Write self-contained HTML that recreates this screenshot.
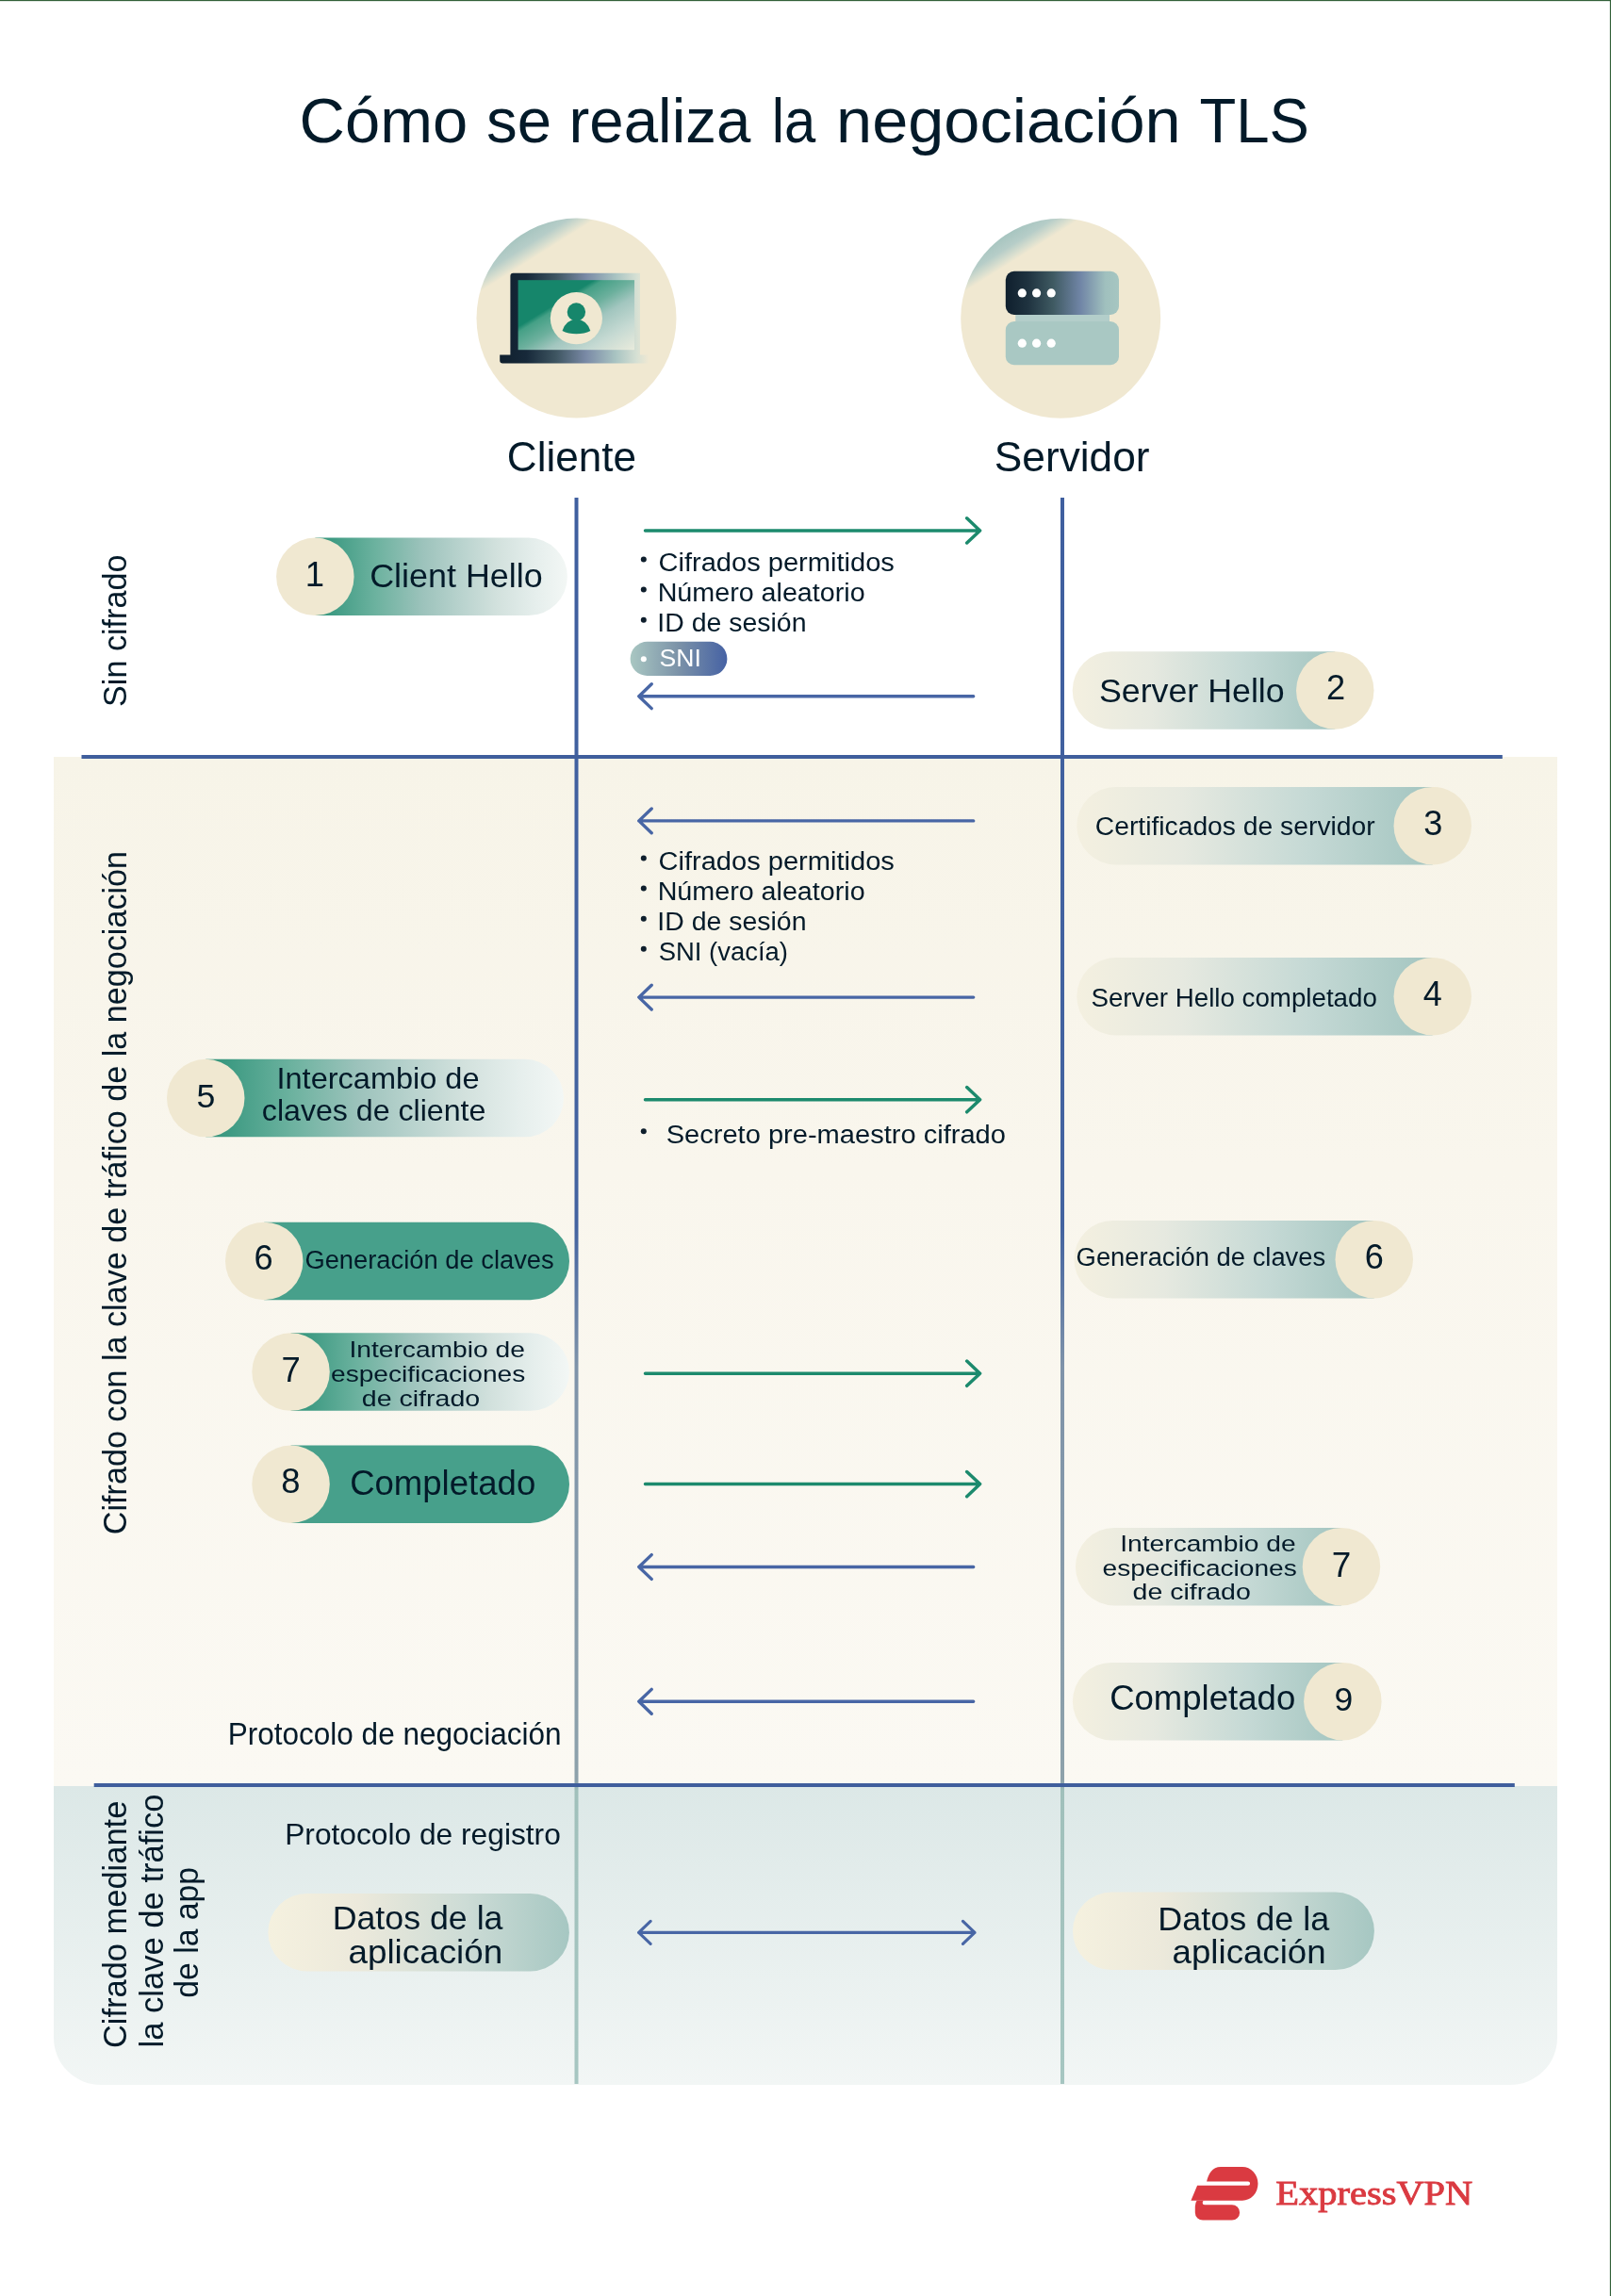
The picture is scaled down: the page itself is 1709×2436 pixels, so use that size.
<!DOCTYPE html>
<html><head><meta charset="utf-8"><title>Cómo se realiza la negociación TLS</title>
<style>html,body{margin:0;padding:0;background:#fff;width:1709px;height:2436px;overflow:hidden}svg{display:block}</style>
</head><body>
<svg style="will-change:transform" width="1709" height="2436" viewBox="0 0 1709 2436">

<defs>
 <linearGradient id="gVert" gradientUnits="userSpaceOnUse" x1="0" y1="528" x2="0" y2="2211">
  <stop offset="0" stop-color="#3f5f9f"/>
  <stop offset="0.459" stop-color="#4363a0"/>
  <stop offset="0.548" stop-color="#7f93a9"/>
  <stop offset="0.809" stop-color="#8ea2ab"/>
  <stop offset="0.815" stop-color="#a0c0bb"/>
  <stop offset="1" stop-color="#a6c6c1"/>
 </linearGradient>
 <linearGradient id="gSec3" x1="0" y1="0" x2="0" y2="1">
  <stop offset="0" stop-color="#dce8e7"/>
  <stop offset="1" stop-color="#f2f6f5"/>
 </linearGradient>
 <linearGradient id="gSec2" x1="0" y1="0" x2="0" y2="1">
  <stop offset="0" stop-color="#f7f4e8"/>
  <stop offset="0.4" stop-color="#f9f6ed"/>
  <stop offset="1" stop-color="#fbf9f3"/>
 </linearGradient>
 <linearGradient id="gGreen" x1="0" y1="0" x2="1" y2="0">
  <stop offset="0" stop-color="#339479"/>
  <stop offset="0.06" stop-color="#3d9a82"/>
  <stop offset="0.24" stop-color="#6cb29f"/>
  <stop offset="0.43" stop-color="#9dc3bc"/>
  <stop offset="0.58" stop-color="#b9d3ce"/>
  <stop offset="0.72" stop-color="#d2e1dd"/>
  <stop offset="0.87" stop-color="#e5eeec"/>
  <stop offset="1" stop-color="#f3f7f5"/>
 </linearGradient>
 <linearGradient id="gTeal" x1="0" y1="0" x2="1" y2="0">
  <stop offset="0" stop-color="#f4f0e0"/>
  <stop offset="0.3" stop-color="#e6e9e0"/>
  <stop offset="0.65" stop-color="#c5d9d5"/>
  <stop offset="1" stop-color="#a3c5c0"/>
 </linearGradient>
 <linearGradient id="gDatos" x1="0" y1="0" x2="1" y2="0">
  <stop offset="0" stop-color="#f5f1df"/>
  <stop offset="0.3" stop-color="#ece9db"/>
  <stop offset="0.65" stop-color="#cddcd6"/>
  <stop offset="1" stop-color="#a6c7c2"/>
 </linearGradient>
 <linearGradient id="gSNI" x1="0" y1="0" x2="1" y2="0">
  <stop offset="0" stop-color="#a9c7c2"/>
  <stop offset="0.5" stop-color="#7b92a8"/>
  <stop offset="1" stop-color="#4662a4"/>
 </linearGradient>
 <linearGradient id="gIcon" x1="0.235" y1="0.076" x2="0.305" y2="0.187">
  <stop offset="0" stop-color="#a7c5c0"/>
  <stop offset="0.45" stop-color="#b6cdc8"/>
  <stop offset="0.8" stop-color="#dadfcf"/>
  <stop offset="1" stop-color="#f0e8d1"/>
 </linearGradient>
 <linearGradient id="gFrame" x1="0" y1="0" x2="1" y2="0">
  <stop offset="0" stop-color="#0f1f2d"/>
  <stop offset="0.18" stop-color="#17293a"/>
  <stop offset="0.38" stop-color="#3f5662"/>
  <stop offset="0.58" stop-color="#7a8aa6"/>
  <stop offset="0.78" stop-color="#a9c4c2"/>
  <stop offset="0.92" stop-color="#d6e0d4"/>
  <stop offset="1" stop-color="#efe8d2"/>
 </linearGradient>
 <linearGradient id="gScreen" gradientUnits="userSpaceOnUse" x1="549.6" y1="297.2" x2="616.4" y2="406">
  <stop offset="0" stop-color="#16866b"/>
  <stop offset="0.33" stop-color="#16866b"/>
  <stop offset="0.37" stop-color="#45a086"/>
  <stop offset="0.5" stop-color="#6cb09d"/>
  <stop offset="0.62" stop-color="#a2c6bf"/>
  <stop offset="0.8" stop-color="#c6dad3"/>
  <stop offset="1" stop-color="#e9ebdc"/>
 </linearGradient>
 <linearGradient id="gServer" x1="0" y1="0" x2="1" y2="0">
  <stop offset="0" stop-color="#0f1f2d"/>
  <stop offset="0.2" stop-color="#1f3340"/>
  <stop offset="0.42" stop-color="#3f5a62"/>
  <stop offset="0.66" stop-color="#7085a6"/>
  <stop offset="0.88" stop-color="#a0c0be"/>
  <stop offset="1" stop-color="#a6c6c1"/>
 </linearGradient>
</defs>
<rect x="0" y="0" width="1709" height="2436" fill="#ffffff"/>
<rect x="57" y="803" width="1595" height="1092" fill="url(#gSec2)"/>
<path d="M57 1895 H1652 V2162 A50 50 0 0 1 1602 2212 H107 A50 50 0 0 1 57 2162 Z" fill="url(#gSec3)"/>
<rect x="609.5" y="528" width="4" height="1683" fill="url(#gVert)"/>
<rect x="1125" y="528" width="4" height="1683" fill="url(#gVert)"/>
<rect x="86.5" y="801" width="1507.3" height="4" fill="#3f5e9c"/>
<rect x="99.7" y="1892" width="1507.1" height="4" fill="#3f5e9c"/>
<circle cx="611.5" cy="337.6" r="106" fill="url(#gIcon)"/>
<circle cx="1125.2" cy="337.7" r="106" fill="url(#gIcon)"/>
<path d="M544.4 289.7 H679 V376.4 H688 V385.4 H533.2 Q530.2 385.4 530.2 382.4 V376.4 H541.4 V292.7 Q541.4 289.7 544.4 289.7 Z" fill="url(#gFrame)"/>
<rect x="549.6" y="297.2" width="123.4" height="74" fill="url(#gScreen)"/>
<circle cx="611.4" cy="337.7" r="27.6" fill="#f0e8d1"/>
<circle cx="611.4" cy="331" r="9.7" fill="#16866b"/>
<path d="M596.5 351 Q600 339.5 611.4 338.5 Q622.8 339.5 626.3 351 Q620 354.2 611.4 354.2 Q602.8 354.2 596.5 351 Z" fill="#16866b"/>
<rect x="1077.3" y="330" width="99.7" height="14" fill="#b3ceca"/>
<rect x="1066.8" y="287.8" width="120.2" height="46.2" rx="9" fill="url(#gServer)"/>
<rect x="1066.8" y="341" width="120.2" height="46.2" rx="9" fill="#a9c8c3"/>
<circle cx="1084.3" cy="310.9" r="4.6" fill="#ffffff"/>
<circle cx="1084.3" cy="364.2" r="4.6" fill="#ffffff"/>
<circle cx="1099.6" cy="310.9" r="4.6" fill="#ffffff"/>
<circle cx="1099.6" cy="364.2" r="4.6" fill="#ffffff"/>
<circle cx="1115.2" cy="310.9" r="4.6" fill="#ffffff"/>
<circle cx="1115.2" cy="364.2" r="4.6" fill="#ffffff"/>
<path d="M334.35 570.60 H560.65 A41.25 41.25 0 0 1 560.65 653.10 H334.35 Z" fill="url(#gGreen)"/><circle cx="334.35" cy="611.85" r="41.25" fill="#f0e8d1"/>
<path d="M218.25 1123.80 H556.75 A41.25 41.25 0 0 1 556.75 1206.30 H218.25 Z" fill="url(#gGreen)"/><circle cx="218.25" cy="1165.05" r="41.25" fill="#f0e8d1"/>
<path d="M280.25 1296.70 H562.75 A41.25 41.25 0 0 1 562.75 1379.20 H280.25 Z" fill="#47a08b"/><circle cx="280.25" cy="1337.95" r="41.25" fill="#f0e8d1"/>
<path d="M308.55 1414.30 H562.75 A41.25 41.25 0 0 1 562.75 1496.80 H308.55 Z" fill="url(#gGreen)"/><circle cx="308.55" cy="1455.55" r="41.25" fill="#f0e8d1"/>
<path d="M308.55 1533.50 H562.75 A41.25 41.25 0 0 1 562.75 1616.00 H308.55 Z" fill="#47a08b"/><circle cx="308.55" cy="1574.75" r="41.25" fill="#f0e8d1"/>
<path d="M1416.25 691.20 H1178.95 A41.25 41.25 0 0 0 1178.95 773.70 H1416.25 Z" fill="url(#gTeal)"/><circle cx="1416.25" cy="732.45" r="41.25" fill="#f0e8d1"/>
<path d="M1519.75 834.90 H1183.55 A41.25 41.25 0 0 0 1183.55 917.40 H1519.75 Z" fill="url(#gTeal)"/><circle cx="1519.75" cy="876.15" r="41.25" fill="#f0e8d1"/>
<path d="M1519.75 1016.00 H1183.55 A41.25 41.25 0 0 0 1183.55 1098.50 H1519.75 Z" fill="url(#gTeal)"/><circle cx="1519.75" cy="1057.25" r="41.25" fill="#f0e8d1"/>
<path d="M1457.75 1294.90 H1180.65 A41.25 41.25 0 0 0 1180.65 1377.40 H1457.75 Z" fill="url(#gTeal)"/><circle cx="1457.75" cy="1336.15" r="41.25" fill="#f0e8d1"/>
<path d="M1422.95 1620.90 H1182.15 A41.25 41.25 0 0 0 1182.15 1703.40 H1422.95 Z" fill="url(#gTeal)"/><circle cx="1422.95" cy="1662.15" r="41.25" fill="#f0e8d1"/>
<path d="M1424.35 1763.90 H1179.15 A41.25 41.25 0 0 0 1179.15 1846.40 H1424.35 Z" fill="url(#gTeal)"/><circle cx="1424.35" cy="1805.15" r="41.25" fill="#f0e8d1"/>
<rect x="284.40" y="2008.90" width="319.50" height="82.50" rx="41.25" fill="url(#gDatos)"/>
<rect x="1138.00" y="2007.60" width="319.90" height="82.50" rx="41.25" fill="url(#gDatos)"/>
<rect x="668.60" y="680.80" width="102.80" height="36.20" rx="18.10" fill="url(#gSNI)"/>
<path d="M684.5 562.9 H1039.6 M1025.6999999999998 549.8 L1039.6 562.9 L1025.6999999999998 576.0" stroke="#1c8a6d" stroke-width="3.5" fill="none" stroke-linecap="round" stroke-linejoin="round"/>
<path d="M684.5 1166.7 H1039.6 M1025.6999999999998 1153.6000000000001 L1039.6 1166.7 L1025.6999999999998 1179.8" stroke="#1c8a6d" stroke-width="3.5" fill="none" stroke-linecap="round" stroke-linejoin="round"/>
<path d="M684.5 1457.2 H1039.6 M1025.6999999999998 1444.1000000000001 L1039.6 1457.2 L1025.6999999999998 1470.3" stroke="#1c8a6d" stroke-width="3.5" fill="none" stroke-linecap="round" stroke-linejoin="round"/>
<path d="M684.5 1574.6 H1039.6 M1025.6999999999998 1561.5 L1039.6 1574.6 L1025.6999999999998 1587.6999999999998" stroke="#1c8a6d" stroke-width="3.5" fill="none" stroke-linecap="round" stroke-linejoin="round"/>
<path d="M1032.7 738.7 H677.8 M691.1999999999999 725.8000000000001 L677.8 738.7 L691.1999999999999 751.6" stroke="#4866a5" stroke-width="3.4" fill="none" stroke-linecap="round" stroke-linejoin="round"/>
<path d="M1032.7 870.9 H677.8 M691.1999999999999 858.0 L677.8 870.9 L691.1999999999999 883.8" stroke="#4866a5" stroke-width="3.4" fill="none" stroke-linecap="round" stroke-linejoin="round"/>
<path d="M1032.7 1058.1 H677.8 M691.1999999999999 1045.1999999999998 L677.8 1058.1 L691.1999999999999 1071.0" stroke="#4866a5" stroke-width="3.4" fill="none" stroke-linecap="round" stroke-linejoin="round"/>
<path d="M1032.7 1662.5 H677.8 M691.1999999999999 1649.6 L677.8 1662.5 L691.1999999999999 1675.4" stroke="#4866a5" stroke-width="3.4" fill="none" stroke-linecap="round" stroke-linejoin="round"/>
<path d="M1032.7 1805.3 H677.8 M691.1999999999999 1792.3999999999999 L677.8 1805.3 L691.1999999999999 1818.2" stroke="#4866a5" stroke-width="3.4" fill="none" stroke-linecap="round" stroke-linejoin="round"/>
<path d="M677.6 2050.4 H1034.0 M1021.5 2038.4 L1034.0 2050.4 L1021.5 2062.4 M690.1 2038.4 L677.6 2050.4 L690.1 2062.4" stroke="#4866a5" stroke-width="3.1" fill="none" stroke-linecap="round" stroke-linejoin="round"/>
<circle cx="682.8" cy="593.5" r="3.0" fill="#0e1e2c"/>
<circle cx="682.8" cy="625.5" r="3.0" fill="#0e1e2c"/>
<circle cx="682.8" cy="657.8000000000001" r="3.0" fill="#0e1e2c"/>
<circle cx="682.8" cy="910.5" r="3.0" fill="#0e1e2c"/>
<circle cx="682.8" cy="942.5" r="3.0" fill="#0e1e2c"/>
<circle cx="682.8" cy="974.7" r="3.0" fill="#0e1e2c"/>
<circle cx="682.8" cy="1006.7" r="3.0" fill="#0e1e2c"/>
<circle cx="682.8" cy="699.2" r="3.0" fill="#ffffff"/>
<circle cx="682.8" cy="1200.3" r="3.0" fill="#0e1e2c"/>
<text x="317.60" y="150.70" font-size="67.44" fill="#031a29" font-family="Liberation Sans, sans-serif" textLength="178.51" lengthAdjust="spacingAndGlyphs">Cómo</text>
<text x="516.08" y="150.70" font-size="67.44" fill="#031a29" font-family="Liberation Sans, sans-serif" textLength="69.02" lengthAdjust="spacingAndGlyphs">se</text>
<text x="603.56" y="150.70" font-size="67.44" fill="#031a29" font-family="Liberation Sans, sans-serif" textLength="192.74" lengthAdjust="spacingAndGlyphs">realiza</text>
<text x="818.67" y="150.70" font-size="67.44" fill="#031a29" font-family="Liberation Sans, sans-serif" textLength="46.53" lengthAdjust="spacingAndGlyphs">la</text>
<text x="887.05" y="150.70" font-size="67.44" fill="#031a29" font-family="Liberation Sans, sans-serif" textLength="365.60" lengthAdjust="spacingAndGlyphs">negociación</text>
<text x="1272.47" y="150.70" font-size="67.44" fill="#031a29" font-family="Liberation Sans, sans-serif" textLength="116.44" lengthAdjust="spacingAndGlyphs">TLS</text>
<text x="537.86" y="500.30" font-size="44.19" fill="#031a29" font-family="Liberation Sans, sans-serif" textLength="137.09" lengthAdjust="spacingAndGlyphs">Cliente</text>
<text x="1054.79" y="500.30" font-size="44.62" fill="#031a29" font-family="Liberation Sans, sans-serif" textLength="164.74" lengthAdjust="spacingAndGlyphs">Servidor</text>
<text transform="translate(133.80 749.95) rotate(-90)" x="0" y="0" font-size="34.52" fill="#031a29" font-family="Liberation Sans, sans-serif" textLength="161.39" lengthAdjust="spacingAndGlyphs">Sin cifrado</text>
<text transform="translate(134.00 1628.23) rotate(-90)" x="0" y="0" font-size="35.03" fill="#031a29" font-family="Liberation Sans, sans-serif" textLength="725.35" lengthAdjust="spacingAndGlyphs">Cifrado con la clave de tráfico de la negociación</text>
<text x="392.18" y="622.70" font-size="35.90" fill="#031a29" font-family="Liberation Sans, sans-serif">Client Hello</text>
<text x="698.52" y="605.70" font-size="28.20" fill="#031a29" font-family="Liberation Sans, sans-serif" textLength="250.33" lengthAdjust="spacingAndGlyphs">Cifrados permitidos</text>
<text x="697.65" y="638.00" font-size="28.20" fill="#031a29" font-family="Liberation Sans, sans-serif" textLength="219.96" lengthAdjust="spacingAndGlyphs">Número aleatorio</text>
<text x="697.38" y="670.00" font-size="28.20" fill="#031a29" font-family="Liberation Sans, sans-serif" textLength="158.07" lengthAdjust="spacingAndGlyphs">ID de sesión</text>
<text x="699.59" y="706.60" font-size="26.60" fill="#ffffff" font-family="Liberation Sans, sans-serif">SNI</text>
<text x="1165.88" y="745.30" font-size="35.32" fill="#031a29" font-family="Liberation Sans, sans-serif" textLength="196.83" lengthAdjust="spacingAndGlyphs">Server Hello</text>
<text x="1161.76" y="886.10" font-size="27.62" fill="#031a29" font-family="Liberation Sans, sans-serif" textLength="296.90" lengthAdjust="spacingAndGlyphs">Certificados de servidor</text>
<text x="698.52" y="922.80" font-size="28.20" fill="#031a29" font-family="Liberation Sans, sans-serif" textLength="250.33" lengthAdjust="spacingAndGlyphs">Cifrados permitidos</text>
<text x="697.65" y="954.80" font-size="28.20" fill="#031a29" font-family="Liberation Sans, sans-serif" textLength="219.96" lengthAdjust="spacingAndGlyphs">Número aleatorio</text>
<text x="697.38" y="987.00" font-size="28.20" fill="#031a29" font-family="Liberation Sans, sans-serif" textLength="158.07" lengthAdjust="spacingAndGlyphs">ID de sesión</text>
<text x="698.75" y="1019.00" font-size="28.20" fill="#031a29" font-family="Liberation Sans, sans-serif" textLength="137.25" lengthAdjust="spacingAndGlyphs">SNI (vacía)</text>
<text x="1157.44" y="1067.90" font-size="26.89" fill="#031a29" font-family="Liberation Sans, sans-serif" textLength="303.42" lengthAdjust="spacingAndGlyphs">Server Hello completado</text>
<text x="293.50" y="1154.50" font-size="31.54" fill="#031a29" font-family="Liberation Sans, sans-serif" textLength="215.04" lengthAdjust="spacingAndGlyphs">Intercambio de</text>
<text x="277.83" y="1189.40" font-size="31.54" fill="#031a29" font-family="Liberation Sans, sans-serif" textLength="237.59" lengthAdjust="spacingAndGlyphs">claves de cliente</text>
<text x="706.68" y="1212.60" font-size="27.76" fill="#031a29" font-family="Liberation Sans, sans-serif" textLength="360.24" lengthAdjust="spacingAndGlyphs">Secreto pre-maestro cifrado</text>
<text x="323.43" y="1346.40" font-size="28.20" fill="#031a29" font-family="Liberation Sans, sans-serif" textLength="264.26" lengthAdjust="spacingAndGlyphs">Generación de claves</text>
<text x="1141.62" y="1342.60" font-size="28.20" fill="#031a29" font-family="Liberation Sans, sans-serif" textLength="264.56" lengthAdjust="spacingAndGlyphs">Generación de claves</text>
<text x="370.40" y="1439.60" font-size="23.84" fill="#031a29" font-family="Liberation Sans, sans-serif" textLength="186.56" lengthAdjust="spacingAndGlyphs">Intercambio de</text>
<text x="351.01" y="1465.60" font-size="23.84" fill="#031a29" font-family="Liberation Sans, sans-serif" textLength="206.31" lengthAdjust="spacingAndGlyphs">especificaciones</text>
<text x="383.80" y="1491.80" font-size="23.84" fill="#031a29" font-family="Liberation Sans, sans-serif" textLength="125.40" lengthAdjust="spacingAndGlyphs">de cifrado</text>
<text x="371.14" y="1586.20" font-size="36.77" fill="#031a29" font-family="Liberation Sans, sans-serif" textLength="197.09" lengthAdjust="spacingAndGlyphs">Completado</text>
<text x="1188.30" y="1646.20" font-size="23.84" fill="#031a29" font-family="Liberation Sans, sans-serif" textLength="186.25" lengthAdjust="spacingAndGlyphs">Intercambio de</text>
<text x="1169.51" y="1671.50" font-size="23.84" fill="#031a29" font-family="Liberation Sans, sans-serif" textLength="206.31" lengthAdjust="spacingAndGlyphs">especificaciones</text>
<text x="1201.60" y="1697.40" font-size="23.84" fill="#031a29" font-family="Liberation Sans, sans-serif" textLength="125.19" lengthAdjust="spacingAndGlyphs">de cifrado</text>
<text x="1177.14" y="1814.00" font-size="37.36" fill="#031a29" font-family="Liberation Sans, sans-serif" textLength="197.09" lengthAdjust="spacingAndGlyphs">Completado</text>
<text x="241.71" y="1851.40" font-size="32.56" fill="#031a29" font-family="Liberation Sans, sans-serif" textLength="353.93" lengthAdjust="spacingAndGlyphs">Protocolo de negociación</text>
<text x="302.20" y="1957.00" font-size="31.98" fill="#031a29" font-family="Liberation Sans, sans-serif" textLength="292.63" lengthAdjust="spacingAndGlyphs">Protocolo de registro</text>
<text x="352.67" y="2047.40" font-size="35.18" fill="#031a29" font-family="Liberation Sans, sans-serif" textLength="180.83" lengthAdjust="spacingAndGlyphs">Datos de la</text>
<text x="369.44" y="2083.20" font-size="35.18" fill="#031a29" font-family="Liberation Sans, sans-serif" textLength="163.76" lengthAdjust="spacingAndGlyphs">aplicación</text>
<text x="1228.25" y="2047.60" font-size="35.18" fill="#031a29" font-family="Liberation Sans, sans-serif" textLength="181.95" lengthAdjust="spacingAndGlyphs">Datos de la</text>
<text x="1243.54" y="2083.40" font-size="35.18" fill="#031a29" font-family="Liberation Sans, sans-serif" textLength="163.14" lengthAdjust="spacingAndGlyphs">aplicación</text>
<text transform="translate(134.10 2173.05) rotate(-90)" x="0" y="0" font-size="34.45" fill="#031a29" font-family="Liberation Sans, sans-serif" textLength="262.38" lengthAdjust="spacingAndGlyphs">Cifrado mediante</text>
<text transform="translate(172.60 2172.43) rotate(-90)" x="0" y="0" font-size="34.45" fill="#031a29" font-family="Liberation Sans, sans-serif" textLength="268.98" lengthAdjust="spacingAndGlyphs">la clave de tráfico</text>
<text transform="translate(210.40 2119.72) rotate(-90)" x="0" y="0" font-size="34.45" fill="#031a29" font-family="Liberation Sans, sans-serif" textLength="138.83" lengthAdjust="spacingAndGlyphs">de la app</text>
<text x="1353.33" y="2338.80" font-size="36.04" fill="#da3a41" font-family="Liberation Serif, serif" textLength="208.99" lengthAdjust="spacingAndGlyphs" stroke="#da3a41" stroke-width="0.9">ExpressVPN</text>
<text x="323.86" y="622.00" font-size="36.48" fill="#031a29" font-family="Liberation Sans, sans-serif">1</text>
<text x="1406.92" y="742.20" font-size="36.23" fill="#031a29" font-family="Liberation Sans, sans-serif">2</text>
<text x="1510.25" y="886.15" font-size="36.16" fill="#031a29" font-family="Liberation Sans, sans-serif">3</text>
<text x="1509.79" y="1066.70" font-size="36.05" fill="#031a29" font-family="Liberation Sans, sans-serif">4</text>
<text x="208.51" y="1174.65" font-size="35.69" fill="#031a29" font-family="Liberation Sans, sans-serif">5</text>
<text x="269.62" y="1347.35" font-size="36.16" fill="#031a29" font-family="Liberation Sans, sans-serif">6</text>
<text x="1447.82" y="1345.65" font-size="36.16" fill="#031a29" font-family="Liberation Sans, sans-serif">6</text>
<text x="298.54" y="1466.00" font-size="36.48" fill="#031a29" font-family="Liberation Sans, sans-serif">7</text>
<text x="298.37" y="1584.34" font-size="36.44" fill="#031a29" font-family="Liberation Sans, sans-serif">8</text>
<text x="1412.82" y="1672.50" font-size="36.92" fill="#031a29" font-family="Liberation Sans, sans-serif">7</text>
<text x="1415.45" y="1814.65" font-size="35.45" fill="#031a29" font-family="Liberation Sans, sans-serif">9</text>
<g fill="#da3a41">
 <path d="M1295 2298.9 H1318 A16.5 17.9 0 0 1 1318 2334.7 H1263.4 L1270.1 2318.8 H1324 A2.1 2.1 0 0 0 1324 2314.6 H1280.1 C1282 2306 1286 2299 1295 2298.9 Z"/>
 <path d="M1269.6 2334.7 H1277.9 A2.25 2.25 0 0 0 1277.9 2339.2 H1306.9 A8.2 8.2 0 0 1 1306.9 2355.6 H1276 A8.2 8.2 0 0 1 1267.8 2347.4 V2341 Q1267.9 2337 1269.6 2334.7 Z"/>
</g>
<rect x="0" y="0" width="1709" height="1.15" fill="#33613a"/><rect x="1707.85" y="0" width="1.15" height="2436" fill="#33613a"/>
</svg>
</body></html>
